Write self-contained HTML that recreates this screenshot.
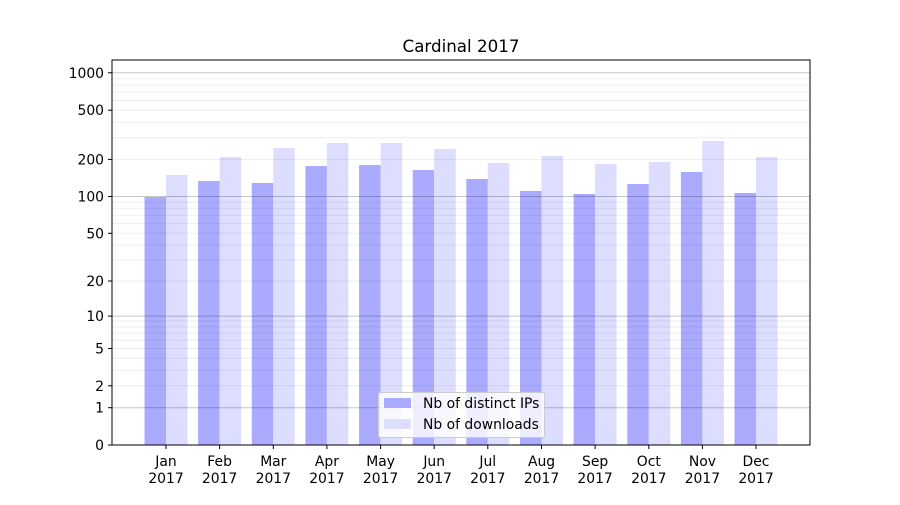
<!DOCTYPE html>
<html><head><meta charset="utf-8"><style>
body{margin:0;background:#fff}
svg text{font-family:"DejaVu Sans","Liberation Sans",sans-serif;font-size:13.9px;fill:#000}
</style></head><body>
<svg width="900" height="500" xmlns="http://www.w3.org/2000/svg">
<rect width="900" height="500" fill="#fff"/>
<g fill="#aaaaff">
<rect x="144.5" y="197" width="21.5" height="248"/>
<rect x="198.1" y="181" width="21.5" height="264"/>
<rect x="251.8" y="183" width="21.5" height="262"/>
<rect x="305.4" y="166" width="21.5" height="279"/>
<rect x="359.1" y="165" width="21.5" height="280"/>
<rect x="412.7" y="170" width="21.5" height="275"/>
<rect x="466.3" y="179" width="21.5" height="266"/>
<rect x="520.0" y="191" width="21.5" height="254"/>
<rect x="573.6" y="194" width="21.5" height="251"/>
<rect x="627.3" y="184" width="21.5" height="261"/>
<rect x="680.9" y="172" width="21.5" height="273"/>
<rect x="734.5" y="193" width="21.5" height="252"/>
</g>
<g fill="#ddddff">
<rect x="166" y="175" width="21.5" height="270"/>
<rect x="219.6" y="157" width="21.5" height="288"/>
<rect x="273.3" y="148" width="21.5" height="297"/>
<rect x="326.9" y="143" width="21.5" height="302"/>
<rect x="380.6" y="143" width="21.5" height="302"/>
<rect x="434.2" y="149" width="21.5" height="296"/>
<rect x="487.8" y="163" width="21.5" height="282"/>
<rect x="541.5" y="156" width="21.5" height="289"/>
<rect x="595.1" y="164" width="21.5" height="281"/>
<rect x="648.8" y="162" width="21.5" height="283"/>
<rect x="702.4" y="141" width="21.5" height="304"/>
<rect x="756" y="157" width="21.5" height="288"/>
</g>
<g stroke="#000" stroke-opacity="0.07" stroke-width="1">
<line x1="112" x2="810" y1="385.8" y2="385.8"/><line x1="112" x2="810" y1="370.3" y2="370.3"/>
<line x1="112" x2="810" y1="358.3" y2="358.3"/><line x1="112" x2="810" y1="348.5" y2="348.5"/>
<line x1="112" x2="810" y1="340.2" y2="340.2"/><line x1="112" x2="810" y1="333" y2="333"/>
<line x1="112" x2="810" y1="326.7" y2="326.7"/><line x1="112" x2="810" y1="321" y2="321"/>
<line x1="112" x2="810" y1="281" y2="281"/><line x1="112" x2="810" y1="260.1" y2="260.1"/>
<line x1="112" x2="810" y1="245" y2="245"/><line x1="112" x2="810" y1="233.3" y2="233.3"/>
<line x1="112" x2="810" y1="223.6" y2="223.6"/><line x1="112" x2="810" y1="215.4" y2="215.4"/>
<line x1="112" x2="810" y1="208.3" y2="208.3"/><line x1="112" x2="810" y1="202.1" y2="202.1"/>
<line x1="112" x2="810" y1="159.4" y2="159.4"/><line x1="112" x2="810" y1="137.7" y2="137.7"/>
<line x1="112" x2="810" y1="122.2" y2="122.2"/><line x1="112" x2="810" y1="110.2" y2="110.2"/>
<line x1="112" x2="810" y1="100.4" y2="100.4"/><line x1="112" x2="810" y1="92.1" y2="92.1"/>
<line x1="112" x2="810" y1="84.9" y2="84.9"/><line x1="112" x2="810" y1="78.6" y2="78.6"/>
</g>
<g stroke="#000" stroke-opacity="0.22" stroke-width="1">
<line x1="112" x2="810" y1="407.7" y2="407.7"/><line x1="112" x2="810" y1="316.1" y2="316.1"/>
<line x1="112" x2="810" y1="196.5" y2="196.5"/><line x1="112" x2="810" y1="72.8" y2="72.8"/>
</g>
<rect x="112" y="60" width="698" height="385" fill="none" stroke="#000" stroke-width="1"/>
<g stroke="#000">
<line x1="108" x2="112" y1="445" y2="445"/><line x1="108" x2="112" y1="407.7" y2="407.7"/>
<line x1="108" x2="112" y1="385.8" y2="385.8"/><line x1="108" x2="112" y1="348.5" y2="348.5"/>
<line x1="108" x2="112" y1="316.1" y2="316.1"/><line x1="108" x2="112" y1="281" y2="281"/>
<line x1="108" x2="112" y1="233.3" y2="233.3"/><line x1="108" x2="112" y1="196.5" y2="196.5"/>
<line x1="108" x2="112" y1="159.4" y2="159.4"/><line x1="108" x2="112" y1="110.2" y2="110.2"/>
<line x1="108" x2="112" y1="72.8" y2="72.8"/>
</g>
<g text-anchor="end">
<text x="104" y="450">0</text><text x="104" y="412.7">1</text><text x="104" y="390.8">2</text>
<text x="104" y="353.5">5</text><text x="104" y="321.1">10</text><text x="104" y="286">20</text>
<text x="104" y="238.3">50</text><text x="104" y="201.5">100</text><text x="104" y="164.4">200</text>
<text x="104" y="115.2">500</text><text x="104" y="77.8">1000</text>
</g>
<g stroke="#000">
<line x1="166" x2="166" y1="445" y2="449"/><line x1="219.6" x2="219.6" y1="445" y2="449"/>
<line x1="273.3" x2="273.3" y1="445" y2="449"/><line x1="326.9" x2="326.9" y1="445" y2="449"/>
<line x1="380.6" x2="380.6" y1="445" y2="449"/><line x1="434.2" x2="434.2" y1="445" y2="449"/>
<line x1="487.8" x2="487.8" y1="445" y2="449"/><line x1="541.5" x2="541.5" y1="445" y2="449"/>
<line x1="595.1" x2="595.1" y1="445" y2="449"/><line x1="648.8" x2="648.8" y1="445" y2="449"/>
<line x1="702.4" x2="702.4" y1="445" y2="449"/><line x1="756" x2="756" y1="445" y2="449"/>
</g>
<g text-anchor="middle">
<text x="166" y="466">Jan</text><text x="166" y="483">2017</text>
<text x="219.6" y="466">Feb</text><text x="219.6" y="483">2017</text>
<text x="273.3" y="466">Mar</text><text x="273.3" y="483">2017</text>
<text x="326.9" y="466">Apr</text><text x="326.9" y="483">2017</text>
<text x="380.6" y="466">May</text><text x="380.6" y="483">2017</text>
<text x="434.2" y="466">Jun</text><text x="434.2" y="483">2017</text>
<text x="487.8" y="466">Jul</text><text x="487.8" y="483">2017</text>
<text x="541.5" y="466">Aug</text><text x="541.5" y="483">2017</text>
<text x="595.1" y="466">Sep</text><text x="595.1" y="483">2017</text>
<text x="648.8" y="466">Oct</text><text x="648.8" y="483">2017</text>
<text x="702.4" y="466">Nov</text><text x="702.4" y="483">2017</text>
<text x="756" y="466">Dec</text><text x="756" y="483">2017</text>
<text x="461" y="52" style="font-size:16.7px">Cardinal 2017</text>
</g>
<rect x="378.5" y="392.5" width="166" height="45" rx="2" fill="#fff" fill-opacity="0.8" stroke="#ccc"/>
<rect x="384" y="398" width="27" height="10" fill="#aaaaff"/>
<rect x="384" y="419" width="27" height="10" fill="#ddddff"/>
<text x="423" y="408">Nb of distinct IPs</text>
<text x="423" y="429">Nb of downloads</text>
</svg>
</body></html>
